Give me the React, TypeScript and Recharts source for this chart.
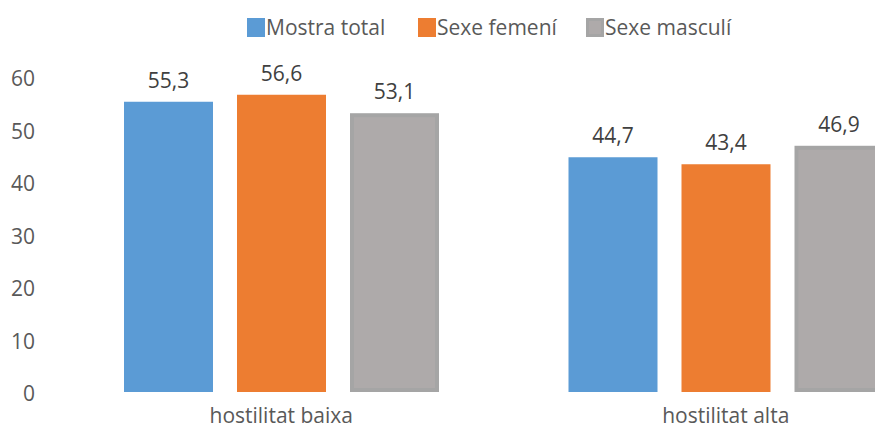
import { BarChart, Bar, XAxis, YAxis, LabelList } from "recharts";

const categories = ["hostilitat baixa", "hostilitat alta"];
const mostraTotal = [55.3, 44.7];
const sexeFemeni = [56.6, 43.4];
const sexeMasculi = [53.1, 46.9];
const yTicks = [0, 10, 20, 30, 40, 50, 60];

const series = [
  { key: "total", name: "Mostra total", color: "#5B9BD5" },
  { key: "femeni", name: "Sexe femení", color: "#ED7D31" },
  { key: "masculi", name: "Sexe masculí", color: "#AEAAAA", border: "#A5A5A5" },
];

const data = categories.map((c, i) => ({
  name: c,
  total: mostraTotal[i],
  femeni: sexeFemeni[i],
  masculi: sexeMasculi[i],
}));

const FONT = "'Open Sans', sans-serif";
const fmt = (v: any) => String(v).replace(".", ",");

// gray series has an inner border in the reference, drawn inside the bar box
function BorderedBar(props: any) {
  const { x, y, width, height } = props;
  const sw = 4;
  return (
    <rect
      x={x + sw / 2}
      y={y + sw / 2}
      width={Math.max(width - sw, 0)}
      height={Math.max(height - sw, 0)}
      fill="#AEAAAA"
      stroke="#A5A5A5"
      strokeWidth={sw}
    />
  );
}

const legendPos = [247, 418, 586];

function LegendRow() {
  return (
    <>
      {series.map((s, i) => (
        <div
          key={s.key}
          style={{
            position: "absolute",
            left: legendPos[i],
            top: 13,
            display: "flex",
            alignItems: "center",
            fontFamily: FONT,
            fontSize: 21,
            color: "#595959",
            whiteSpace: "nowrap",
          }}
        >
          <span
            style={{
              display: "inline-block",
              width: s.border ? 12 : 18,
              height: s.border ? 13 : 19,
              background: s.color,
              border: s.border ? `3px solid ${s.border}` : "none",
              marginRight: 1,
            }}
          />
          {s.name}
        </div>
      ))}
    </>
  );
}

export default function App() {
  return (
    <div
      style={{
        position: "fixed",
        left: 0,
        top: 0,
        width: 875,
        height: 430,
        overflow: "hidden",
        background: "#fff",
      }}
    >
      <BarChart
        width={948}
        height={430}
        data={data}
        margin={{ top: 77, right: 0, bottom: 0, left: 0 }}
        barCategoryGap={65}
        barGap={24}
      >
        <XAxis
          dataKey="name"
          height={38}
          axisLine={false}
          tickLine={false}
          tickMargin={10}
          tick={{ fill: "#595959", fontSize: 21, fontFamily: FONT }}
        />
        <YAxis
          width={59}
          domain={[0, 60]}
          ticks={yTicks}
          axisLine={false}
          tickLine={false}
          tickMargin={18}
          tick={{ fill: "#595959", fontSize: 21, fontFamily: FONT, dy: 2 }}
        />
        {series.map((s) => (
          <Bar
            key={s.key}
            dataKey={s.key}
            name={s.name}
            fill={s.color}
            isAnimationActive={false}
            shape={s.border ? BorderedBar : undefined}
          >
            <LabelList
              dataKey={s.key}
              position="top"
              offset={14}
              formatter={fmt}
              style={{ fill: "#404040", fontSize: 21, fontFamily: FONT }}
            />
          </Bar>
        ))}
      </BarChart>
      <LegendRow />
    </div>
  );
}
